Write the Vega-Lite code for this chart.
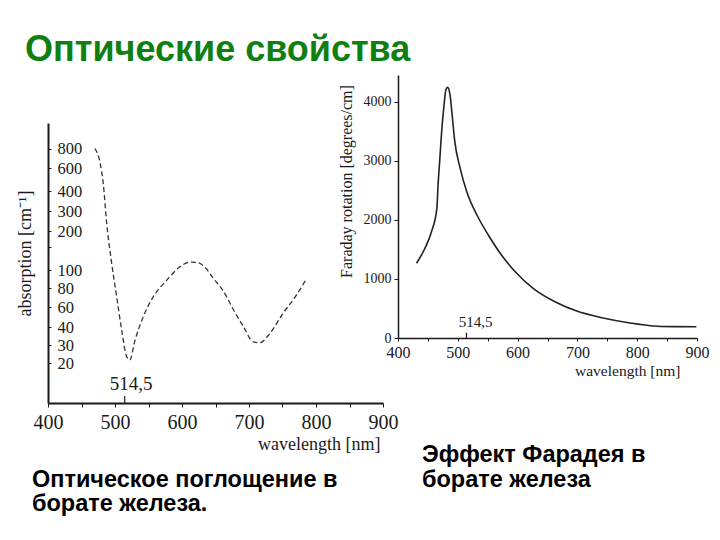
{
  "$schema": "https://vega.github.io/schema/vega-lite/v6.json",
  "width": 649,
  "height": 328,
  "autosize": {"type": "none"},
  "padding": {"left": 48, "top": 75, "right": 23, "bottom": 137},
  "background": "white",
  "title": {
    "text": "Оптические свойства",
    "anchor": "start",
    "frame": "group",
    "font": "Liberation Sans",
    "fontSize": 36,
    "fontWeight": "bold",
    "color": "#0f7f12",
    "dx": -23,
    "offset": 6
  },
  "config": {
    "view": {"stroke": null},
    "axis": {
      "grid": false,
      "domainColor": "#1a1a1a",
      "tickColor": "#1a1a1a",
      "labelColor": "#1a1a1a",
      "titleColor": "#1a1a1a",
      "labelFont": "Liberation Serif",
      "titleFont": "Liberation Serif",
      "titleFontWeight": "normal",
      "labelFlush": false,
      "labelOverlap": false,
      "labelBound": false
    }
  },
  "datasets": {
    "absorption": [
      {"wavelength": 470, "absorption": 800},
      {"wavelength": 478, "absorption": 638},
      {"wavelength": 482.5, "absorption": 455},
      {"wavelength": 487.6, "absorption": 234},
      {"wavelength": 495, "absorption": 113},
      {"wavelength": 502.5, "absorption": 70},
      {"wavelength": 510, "absorption": 38},
      {"wavelength": 517.5, "absorption": 23},
      {"wavelength": 522, "absorption": 21.4},
      {"wavelength": 530, "absorption": 32.5},
      {"wavelength": 542, "absorption": 49},
      {"wavelength": 557, "absorption": 70},
      {"wavelength": 577, "absorption": 88},
      {"wavelength": 597, "absorption": 106},
      {"wavelength": 612, "absorption": 115},
      {"wavelength": 624, "absorption": 114},
      {"wavelength": 635, "absorption": 104},
      {"wavelength": 647, "absorption": 90},
      {"wavelength": 662, "absorption": 76},
      {"wavelength": 677, "absorption": 56.5},
      {"wavelength": 692, "absorption": 40},
      {"wavelength": 706, "absorption": 31.6},
      {"wavelength": 716, "absorption": 31.1},
      {"wavelength": 731, "absorption": 36},
      {"wavelength": 751, "absorption": 53},
      {"wavelength": 769, "absorption": 70},
      {"wavelength": 786, "absorption": 90}
    ],
    "faraday": [
      {"wavelength": 431, "rotation": 1264},
      {"wavelength": 445, "rotation": 1518},
      {"wavelength": 456, "rotation": 1799},
      {"wavelength": 465, "rotation": 2194},
      {"wavelength": 467, "rotation": 2589},
      {"wavelength": 470, "rotation": 3040},
      {"wavelength": 473, "rotation": 3491},
      {"wavelength": 477, "rotation": 3942},
      {"wavelength": 480, "rotation": 4196},
      {"wavelength": 483, "rotation": 4240},
      {"wavelength": 487, "rotation": 4112},
      {"wavelength": 490, "rotation": 3829},
      {"wavelength": 495, "rotation": 3322},
      {"wavelength": 504, "rotation": 2871},
      {"wavelength": 515, "rotation": 2476},
      {"wavelength": 532, "rotation": 2081},
      {"wavelength": 551, "rotation": 1743},
      {"wavelength": 573, "rotation": 1404},
      {"wavelength": 596, "rotation": 1122},
      {"wavelength": 626, "rotation": 840},
      {"wavelength": 665, "rotation": 600},
      {"wavelength": 699, "rotation": 455},
      {"wavelength": 743, "rotation": 340},
      {"wavelength": 788, "rotation": 255},
      {"wavelength": 822, "rotation": 208},
      {"wavelength": 860, "rotation": 192},
      {"wavelength": 899, "rotation": 190}
    ]
  },
  "layer": [
    {
      "layer": [
        {
          "data": {"name": "absorption"},
          "mark": {"type": "line", "interpolate": "monotone", "strokeDash": [5, 3], "strokeWidth": 1.3, "color": "#333333"},
          "encoding": {
            "x": {
              "field": "wavelength", "type": "quantitative",
              "scale": {"domain": [400, 900], "range": [0, 335], "nice": false, "zero": false},
              "axis": {
                "orient": "bottom",
                "values": [400, 450, 500, 550, 600, 650, 700, 750, 800, 850, 900],
                "labelExpr": "datum.value % 100 == 0 ? datum.label : ''",
                "tickSize": 4,
                "labelPadding": 5,
                "labelFontSize": 20,
                "domainWidth": 2,
                "title": "wavelength  [nm]",
                "titleFontSize": 18,
                "titleAlign": "right",
                "titleAnchor": null,
                "titleX": 332,
                "titleY": 46,
                "titleBaseline": "alphabetic"
              }
            },
            "y": {
              "field": "absorption", "type": "quantitative",
              "scale": {
                "type": "log",
                "domain": [10, 20, 30, 40, 60, 80, 100, 200, 300, 400, 600, 800, 1277],
                "range": [328, 288, 270, 252, 232, 213, 195, 156, 136, 116, 93, 73.5, 48],
                "nice": false
              },
              "axis": {
                "orient": "left",
                "values": [20, 30, 40, 60, 80, 100, 150, 200, 300, 400, 600, 800],
                "format": "d",
                "labelExpr": "datum.value == 150 ? '' : datum.label",
                "tickSize": -3,
                "labelAlign": "left",
                "labelPadding": -6,
                "labelFontSize": 16.5,
                "labelBaseline": "middle",
                "domainWidth": 2,
                "title": "absorption [cm⁻¹]",
                "titleFontSize": 18,
                "titleAngle": -90,
                "titleAlign": "center",
                "titleBaseline": "alphabetic",
                "titleX": -18,
                "titleY": 178
              }
            }
          }
        },
        {
          "data": {"values": [{"tick": 514.5, "base": 10, "top": 11.3}]},
          "mark": {"type": "rule", "color": "#1a1a1a", "strokeWidth": 1.2},
          "encoding": {
            "x": {"field": "tick", "type": "quantitative"},
            "y": {"field": "base", "type": "quantitative"},
            "y2": {"field": "top"}
          }
        },
        {
          "data": {"values": [{"label": "514,5", "wavelength": 524, "level": 12.5}]},
          "mark": {"type": "text", "font": "Liberation Serif", "fontSize": 19, "color": "#1a1a1a", "align": "center", "baseline": "alphabetic"},
          "encoding": {
            "x": {"field": "wavelength", "type": "quantitative"},
            "y": {"field": "level", "type": "quantitative"},
            "text": {"field": "label"}
          }
        },
        {
          "data": {"values": [{"caption": ["Оптическое поглощение в", "борате железа."], "wavelength": 376, "level": 2.33}]},
          "mark": {"type": "text", "font": "Liberation Sans", "fontWeight": "bold", "fontSize": 23.5, "lineHeight": 23.5, "color": "#000000", "align": "left", "baseline": "alphabetic", "clip": false},
          "encoding": {
            "x": {"field": "wavelength", "type": "quantitative"},
            "y": {"field": "level", "type": "quantitative"},
            "text": {"field": "caption"}
          }
        }
      ]
    },
    {
      "layer": [
        {
          "data": {"name": "faraday"},
          "mark": {"type": "line", "interpolate": "monotone", "strokeWidth": 1.6, "color": "#222222"},
          "encoding": {
            "x": {
              "field": "wavelength", "type": "quantitative",
              "scale": {"domain": [400, 900], "range": [350, 649], "nice": false, "zero": false},
              "axis": {
                "orient": "bottom",
                "offset": -65,
                "values": [400, 450, 500, 550, 600, 650, 700, 750, 800, 850, 900],
                "labelExpr": "datum.value % 100 == 0 ? datum.label : ''",
                "tickSize": 3,
                "labelPadding": 3,
                "labelFontSize": 16,
                "domainWidth": 1.5,
                "title": "wavelength [nm]",
                "titleFontSize": 15.5,
                "titleAlign": "right",
                "titleAnchor": null,
                "titleX": 632,
                "titleY": 37,
                "titleBaseline": "alphabetic"
              }
            },
            "y": {
              "field": "rotation", "type": "quantitative",
              "scale": {"domain": [0, 4450], "range": [263, 0], "nice": false},
              "axis": {
                "orient": "left",
                "offset": -350,
                "values": [0, 1000, 2000, 3000, 4000],
                "format": "d",
                "tickSize": 4,
                "labelPadding": 3,
                "labelFontSize": 14,
                "domainWidth": 1.5,
                "title": "Faraday rotation [degrees/cm]",
                "titleFontSize": 16,
                "titleAngle": -90,
                "titleAlign": "center",
                "titleBaseline": "alphabetic",
                "titleX": -47,
                "titleY": 106
              }
            }
          }
        },
        {
          "data": {"values": [{"tick": 514.5, "base": 0, "top": 90}]},
          "mark": {"type": "rule", "color": "#1a1a1a", "strokeWidth": 1.2},
          "encoding": {
            "x": {"field": "tick", "type": "quantitative"},
            "y": {"field": "base", "type": "quantitative"},
            "y2": {"field": "top"}
          }
        },
        {
          "data": {"values": [{"label": "514,5", "wavelength": 530, "level": 186}]},
          "mark": {"type": "text", "font": "Liberation Serif", "fontSize": 15, "color": "#1a1a1a", "align": "center", "baseline": "alphabetic"},
          "encoding": {
            "x": {"field": "wavelength", "type": "quantitative"},
            "y": {"field": "level", "type": "quantitative"},
            "text": {"field": "label"}
          }
        },
        {
          "data": {"values": [{"caption": ["Эффект Фарадея в", "борате железа"], "wavelength": 440, "level": -2098}]},
          "mark": {"type": "text", "font": "Liberation Sans", "fontWeight": "bold", "fontSize": 23.5, "lineHeight": 25, "color": "#000000", "align": "left", "baseline": "alphabetic", "clip": false},
          "encoding": {
            "x": {"field": "wavelength", "type": "quantitative"},
            "y": {"field": "level", "type": "quantitative"},
            "text": {"field": "caption"}
          }
        }
      ]
    }
  ],
  "resolve": {
    "scale": {"x": "independent", "y": "independent"},
    "axis": {"x": "independent", "y": "independent"}
  }
}
